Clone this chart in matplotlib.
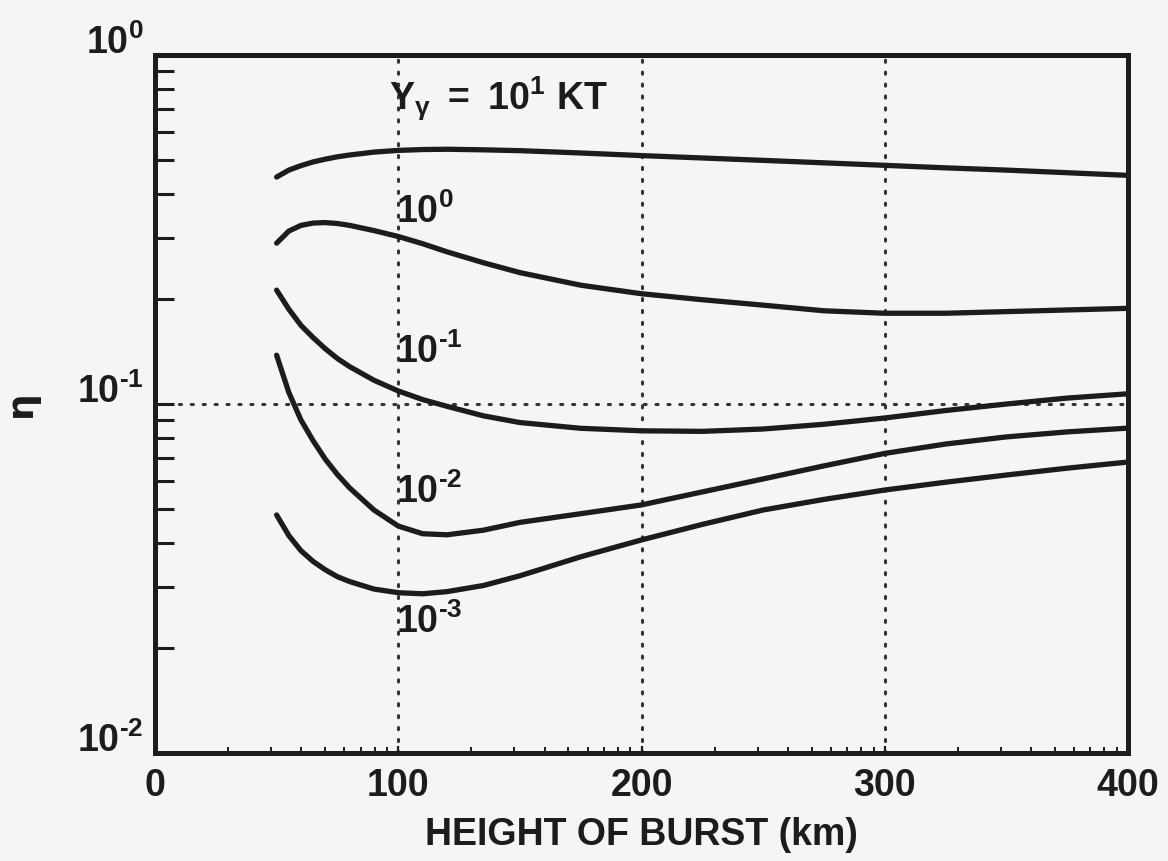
import numpy as np
import matplotlib
matplotlib.use("Agg")
import matplotlib.pyplot as plt
from matplotlib.ticker import FixedLocator, NullFormatter

plt.rcParams['font.family'] = ['Liberation Sans', 'DejaVu Sans']
plt.rcParams['font.weight'] = 'bold'
plt.rcParams['mathtext.fontset'] = 'custom'
plt.rcParams['mathtext.rm'] = 'Liberation Sans:bold'
plt.rcParams['mathtext.bf'] = 'Liberation Sans:bold'
plt.rcParams['mathtext.it'] = 'Liberation Sans:bold'
plt.rcParams['mathtext.default'] = 'bf'

# ---- data ----
height_km = [50, 55, 60, 65, 70, 75, 80, 90, 100, 110, 120, 135, 150, 175, 200,
             225, 250, 275, 300, 325, 350, 375, 400]
eta_y1e1 = [0.447, 0.468, 0.482, 0.494, 0.503, 0.511, 0.517, 0.527, 0.533, 0.536, 0.537,
            0.535, 0.532, 0.524, 0.515, 0.507, 0.499, 0.491, 0.483, 0.475, 0.468, 0.460, 0.452]
eta_y1e0 = [0.289, 0.313, 0.325, 0.330, 0.331, 0.329, 0.325, 0.314, 0.302, 0.288, 0.273,
            0.254, 0.238, 0.219, 0.207, 0.199, 0.192, 0.185, 0.182, 0.182, 0.184, 0.186, 0.188]
eta_y1em1 = [0.212, 0.187, 0.168, 0.155, 0.144, 0.135, 0.128, 0.117, 0.109, 0.103, 0.0985,
             0.0925, 0.0885, 0.0852, 0.0838, 0.0835, 0.0848, 0.0875, 0.0912, 0.0958, 0.1000,
             0.1040, 0.1070]
eta_y1em2 = [0.138, 0.108, 0.090, 0.0785, 0.0695, 0.0628, 0.0575, 0.0497, 0.0447, 0.0425,
             0.0422, 0.0435, 0.0458, 0.0485, 0.0514, 0.0560, 0.0610, 0.0665, 0.0722, 0.0768,
             0.0805, 0.0832, 0.0853]
eta_y1em3 = [0.0481, 0.0420, 0.0380, 0.0354, 0.0335, 0.0320, 0.0310, 0.0295, 0.0288, 0.0286,
             0.0290, 0.0302, 0.0322, 0.0365, 0.0408, 0.0452, 0.0497, 0.0533, 0.0567, 0.0597,
             0.0626, 0.0655, 0.0682]

series = [eta_y1e1, eta_y1e0, eta_y1em1, eta_y1em2, eta_y1em3]
curve_labels = [r'$\mathbf{Y_{\gamma}\ =\ 10^{1}\ KT}$', r'$\mathbf{10^{0}}$',
                r'$\mathbf{10^{\text{-}1}}$', r'$\mathbf{10^{\text{-}2}}$',
                r'$\mathbf{10^{\text{-}3}}$']
x_ticks = [0, 100, 200, 300, 400]
x_ticklabels = ['0', '100', '200', '300', '400']
y_ticks = [1e-2, 1e-1, 1e0]
y_ticklabels = [r'$\mathbf{10^{\text{-}2}}$', r'$\mathbf{10^{\text{-}1}}$', r'$\mathbf{10^{0}}$']
x_label = 'HEIGHT OF BURST (km)'
y_label = 'η'

# ---- figure ----
BG = '#f5f5f5'
INK = '#1c1c1c'
fig = plt.figure(figsize=(11.68, 8.61), dpi=100, facecolor=BG)
ax = fig.add_axes([0.1327, 0.1254, 0.8331, 0.8107], facecolor=BG)
ax.set_yscale('log')
ax.set_xlim(0, 400)
ax.set_ylim(1e-2, 1e0)

for s in series:
    ax.plot(height_km, s, color=INK, lw=3.8, solid_capstyle='round',
            solid_joinstyle='round', zorder=3)

# dotted grid lines
for xv in [100, 200, 300]:
    ax.axvline(xv, color='#333333', lw=2.2, ls=(0, (0.7, 3.2)),
               dash_capstyle='round', zorder=1)
ax.axhline(1e-1, color='#333333', lw=2.2, ls=(0, (0.7, 3.2)),
           dash_capstyle='round', zorder=1)

for sp in ax.spines.values():
    sp.set_linewidth(3.6)
    sp.set_color(INK)

# x ticks
ax.xaxis.set_major_locator(FixedLocator(x_ticks))
ax.set_xticklabels(x_ticklabels, fontsize=27, fontweight='bold', color=INK)
minor_x = [k * 100 + 100 * np.log10(m) for k in range(4) for m in range(2, 10)]
ax.xaxis.set_minor_locator(FixedLocator(minor_x))
ax.tick_params(axis='x', which='major', direction='in', length=5, width=1.6,
               colors=INK, pad=11, top=False, bottom=True)
ax.tick_params(axis='x', which='minor', direction='in', length=4, width=1.4,
               colors=INK, top=False, bottom=True)

# y ticks
ax.yaxis.set_major_locator(FixedLocator(y_ticks))
minor_y = [m * 10.0 ** e for e in (-2, -1) for m in range(2, 10)]
ax.yaxis.set_minor_locator(FixedLocator(minor_y))
ax.yaxis.set_major_formatter(NullFormatter())
ax.yaxis.set_minor_formatter(NullFormatter())
ax.tick_params(axis='y', which='both', direction='in', length=14, width=2.2,
               colors=INK, left=True, right=False)

ytrans = ax.get_yaxis_transform()
for yv, lab in zip(y_ticks, y_ticklabels):
    ax.text(-0.012, yv * 10 ** (12 / 349), lab, transform=ytrans, ha='right', va='center',
            fontsize=27, color=INK, clip_on=False)

ax.set_xlabel(x_label, fontsize=27, fontweight='bold', color=INK, labelpad=9)
ax.text(-0.138, 1e-1, y_label, transform=ytrans, rotation=90, ha='center', va='center',
        fontsize=27, color=INK, fontweight='bold', family=['DejaVu Sans'])

# curve labels
label_pos = [(96, 0.695), (99, 0.330), (99, 0.131), (99, 0.0521), (99, 0.0221)]
for (lx, ly), lab in zip(label_pos, curve_labels):
    ax.text(lx, ly, lab, ha='left', va='baseline', fontsize=27, color=INK, zorder=4)

fig.savefig('out.png', dpi=100, facecolor=BG)
